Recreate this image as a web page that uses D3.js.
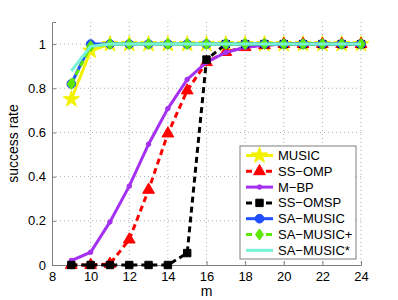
<!DOCTYPE html>
<html>
<head>
<meta charset="utf-8">
<script src="https://cdn.jsdelivr.net/npm/d3@7"></script>
<style>
body { margin: 0; background: #fff; }
text { font-family: "Liberation Sans", Arial, sans-serif; }
</style>
</head>
<body>
<svg width="398" height="300"></svg>
<script>
// m values and success rates
var m = [9, 10, 11, 12, 13, 14, 15, 16, 17, 18, 19, 20, 21, 22, 23, 24];
var music     = [0.75, 0.97, 1, 1, 1, 1, 1, 1, 1, 1, 1, 1, 1, 1, 1, 1];
var ssOmp     = [0, 0, 0.005, 0.115, 0.34, 0.595, 0.79, 0.918, 0.964, 0.986, 0.995, 1, 1, 1, 1, 1];
var mBp       = [0.02, 0.058, 0.195, 0.357, 0.547, 0.708, 0.84, 0.918, 0.962, 0.986, 0.995, 1, 1, 1, 1, 1];
var ssOmsp    = [0, 0, 0, 0, 0, 0, 0.054, 0.93, 1, 1, 1, 1, 1, 1, 1, 1];
var saMusic   = [0.82, 1, 1, 1, 1, 1, 1, 1, 1, 1, 1, 1, 1, 1, 1, 1];
var saMusicP  = [0.82, 0.99, 1, 1, 1, 1, 1, 1, 1, 1, 1, 1, 1, 1, 1, 1];
var saMusicS  = [0.878, 0.99, 1, 1, 1, 1, 1, 1, 1, 1, 1, 1, 1, 1, 1, 1];
var xTicks = [8, 10, 12, 14, 16, 18, 20, 22, 24];
var yTicks = [0, 0.2, 0.4, 0.6, 0.8, 1];

var series = [
    {name: "MUSIC", v: music, color: "#f2f200", dash: null, marker: "star"},
    {name: "SS\u2212OMP", v: ssOmp, color: "#ff0000", dash: "6,4", marker: "triangle"},
    {name: "M\u2212BP", v: mBp, color: "#a431f2", dash: null, marker: "dot"},
    {name: "SS\u2212OMSP", v: ssOmsp, color: "#000000", dash: "6,4", marker: "square"},
    {name: "SA\u2212MUSIC", v: saMusic, color: "#1f4fff", dash: null, marker: "circle"},
    {name: "SA\u2212MUSIC+", v: saMusicP, color: "#5ee800", dash: "6,4", marker: "diamond"},
    {name: "SA\u2212MUSIC*", v: saMusicS, color: "#76f2d6", dash: null, marker: null}
];

var svg = d3.select("svg"),
    margin = {top: 22, right: 37, bottom: 35, left: 52},
    width = +svg.attr("width") - margin.left - margin.right,
    height = +svg.attr("height") - margin.top - margin.bottom,
    g = svg.append("g").attr("transform", "translate(" + margin.left + "," + margin.top + ")");

var x = d3.scaleLinear().domain([8, 24]).range([0, width]);
var y = d3.scaleLinear().domain([0, 1.1]).range([height, 0]);

// dotted grid
g.append("g").selectAll("line").data(xTicks.slice(1)).enter().append("line")
    .attr("x1", function(d) { return x(d); }).attr("x2", function(d) { return x(d); })
    .attr("y1", 0).attr("y2", height)
    .attr("stroke", "#b0b0b0").attr("stroke-dasharray", "1,3");
g.append("g").selectAll("line").data(yTicks.slice(1)).enter().append("line")
    .attr("x1", 0).attr("x2", width)
    .attr("y1", function(d) { return y(d); }).attr("y2", function(d) { return y(d); })
    .attr("stroke", "#b0b0b0").attr("stroke-dasharray", "1,3");

var xAxis = g.append("g")
    .attr("transform", "translate(0," + height + ")")
    .call(d3.axisBottom(x).tickValues(xTicks).tickSize(-4).tickPadding(7));
var yAxis = g.append("g")
    .call(d3.axisLeft(y).tickValues(yTicks).tickSize(-4).tickPadding(6).tickFormat(d3.format("")));
[xAxis, yAxis].forEach(function(a) {
    a.select(".domain").attr("stroke", "#7f7f7f");
    a.selectAll(".tick line").attr("stroke", "#7f7f7f");
    a.selectAll("text").attr("fill", "#000").style("font-size", "13px");
});

svg.append("text").attr("x", margin.left + width / 2).attr("y", 296)
    .attr("text-anchor", "middle").style("font-size", "14px").text("m");
svg.append("text").attr("transform", "translate(18," + (margin.top + y(0.55)) + ") rotate(-90)")
    .attr("text-anchor", "middle").style("font-size", "14px").text("success rate");

function markerPath(type) {
    if (type === "star") return d3.symbol().type(d3.symbolStar).size(80)();
    if (type === "triangle") return d3.symbol().type(d3.symbolTriangle).size(60)();
    if (type === "dot") return d3.symbol().type(d3.symbolCircle).size(16)();
    if (type === "square") return d3.symbol().type(d3.symbolSquare).size(55)();
    if (type === "circle") return d3.symbol().type(d3.symbolCircle).size(60)();
    if (type === "diamond") return "M0,-5.5L4,0L0,5.5L-4,0Z";
    return null;
}

var line = d3.line()
    .x(function(d, i) { return x(m[i]); })
    .y(function(d) { return y(d); });

series.forEach(function(s) {
    g.append("path")
        .datum(s.v)
        .attr("fill", "none")
        .attr("stroke", s.color)
        .attr("stroke-width", 3)
        .attr("stroke-dasharray", s.dash)
        .attr("d", line);
    if (s.marker) {
        g.append("g").selectAll("path").data(s.v).enter().append("path")
            .attr("transform", function(d, i) { return "translate(" + x(m[i]) + "," + y(d) + ")"; })
            .attr("d", markerPath(s.marker))
            .attr("fill", s.color)
            .attr("stroke", s.color)
            .attr("stroke-width", 1);
    }
});

// legend
var lg = svg.append("g").attr("transform", "translate(240,146)");
lg.append("rect").attr("width", 116).attr("height", 113)
    .attr("fill", "#fff").attr("stroke", "#7f7f7f").attr("stroke-width", 1);
series.forEach(function(s, i) {
    var yy = 9.5 + i * 15.8;
    lg.append("line").attr("x1", 6).attr("x2", 33).attr("y1", yy).attr("y2", yy)
        .attr("stroke", s.color).attr("stroke-width", 3).attr("stroke-dasharray", s.dash);
    if (s.marker) {
        lg.append("path").attr("transform", "translate(19.5," + yy + ")")
            .attr("d", markerPath(s.marker)).attr("fill", s.color).attr("stroke", s.color);
    }
    lg.append("text").attr("x", 38).attr("y", yy + 4.5).style("font-size", "13px").text(s.name);
});
</script>
</body>
</html>
